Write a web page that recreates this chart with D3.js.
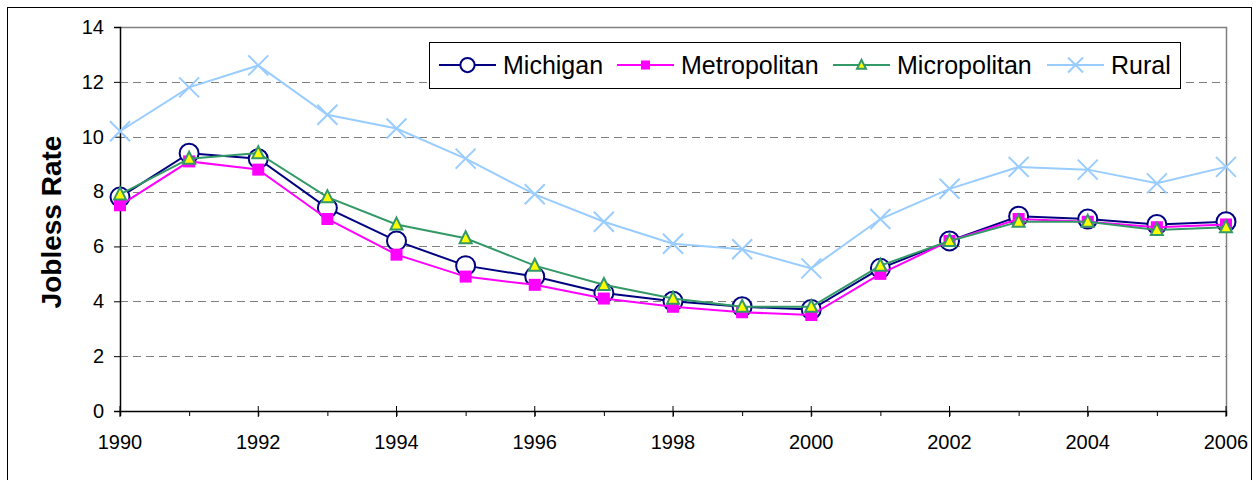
<!DOCTYPE html>
<html>
<head>
<meta charset="utf-8">
<script src="https://cdn.jsdelivr.net/npm/d3@7/dist/d3.min.js"></script>
<style>
    body { margin: 0; background: #fff; }
    text { font-family: "Liberation Sans", Arial, sans-serif; }
</style>
</head>
<body>
<div id="chart"></div>
<script>
let years = d3.range(1990, 2007);
let yTicks = [0, 2, 4, 6, 8, 10, 12, 14];
let xTickLabels = [1990, 1992, 1994, 1996, 1998, 2000, 2002, 2004, 2006];

let michigan = [7.8, 9.4, 9.2, 7.4, 6.2, 5.3, 4.9, 4.3, 4.0, 3.8, 3.7, 5.2, 6.2, 7.1, 7.0, 6.8, 6.9];
let metropolitan = [7.5, 9.1, 8.8, 7.0, 5.7, 4.9, 4.6, 4.1, 3.8, 3.6, 3.5, 5.0, 6.2, 7.0, 6.9, 6.7, 6.8];
let micropolitan = [7.9, 9.2, 9.4, 7.8, 6.8, 6.3, 5.3, 4.6, 4.1, 3.8, 3.8, 5.3, 6.2, 6.9, 6.9, 6.6, 6.7];
let rural = [10.2, 11.8, 12.6, 10.8, 10.3, 9.2, 7.9, 6.9, 6.1, 5.9, 5.2, 7.0, 8.1, 8.9, 8.8, 8.3, 8.9];

let seriesNames = ["Michigan", "Metropolitan", "Micropolitan", "Rural"];

// style of every series, drawn in this order (later ones on top)
let series = [
    {name: seriesNames[0], values: michigan, color: "#000080", marker: "circle", width: 2},
    {name: seriesNames[1], values: metropolitan, color: "#FF00FF", marker: "square", width: 2},
    {name: seriesNames[2], values: micropolitan, color: "#339966", marker: "triangle", width: 2},
    {name: seriesNames[3], values: rural, color: "#99CCFF", marker: "x", width: 2}
];

let W = 1257, H = 480;
let margin = {top: 27, right: 31, bottom: 69, left: 120},
    width = W - margin.left - margin.right,
    height = H - margin.top - margin.bottom;

let svg = d3.select("#chart").append("svg")
    .attr("width", W)
    .attr("height", H);

// outer chart frame
svg.append("rect")
    .attr("x", 7.5).attr("y", 7.5)
    .attr("width", 1244).attr("height", 490)
    .attr("fill", "none")
    .attr("stroke", "#000")
    .attr("stroke-width", 1);

let g = svg.append("g")
    .attr("transform", "translate(" + margin.left + "," + margin.top + ")");

let xScale = d3.scaleLinear().domain([1990, 2006]).range([0, width]);
let yScale = d3.scaleLinear().domain([0, 14]).range([height, 0]);

// dashed grid lines
g.selectAll(".grid")
    .data(yTicks.filter(function (d) { return d > 0 && d < 14; }))
    .enter().append("line")
    .attr("x1", 0).attr("x2", width)
    .attr("y1", function (d) { return Math.round(yScale(d)) + 0.5; })
    .attr("y2", function (d) { return Math.round(yScale(d)) + 0.5; })
    .attr("stroke", "#808080")
    .attr("stroke-dasharray", "8,5");

// plot area border (top and right, gray)
g.append("path")
    .attr("d", "M0,0.5H" + (width + 0.5) + "V" + height)
    .attr("fill", "none")
    .attr("stroke", "#808080")
    .attr("stroke-width", 1.5);

// Y axis
let yAxis = g.append("g")
    .call(d3.axisLeft(yScale).tickValues(yTicks).tickSize(6).tickPadding(10));
yAxis.select(".domain").attr("stroke", "#000").attr("stroke-width", 1.5);
yAxis.selectAll(".tick line").attr("stroke", "#000");
yAxis.selectAll("text")
    .style("font-size", "20px")
    .attr("fill", "#000");

// X axis, minor ticks every year, major ticks cross the axis
let xAxisG = g.append("g")
    .attr("transform", "translate(0," + height + ")");
xAxisG.call(d3.axisBottom(xScale).tickValues(years).tickSize(5).tickFormat(""));
xAxisG.select(".domain").attr("stroke", "#000").attr("stroke-width", 1.5);
xAxisG.selectAll(".tick line").attr("stroke", "#000");
xAxisG.selectAll(".major")
    .data(xTickLabels)
    .enter().append("line")
    .attr("x1", function (d) { return xScale(d); })
    .attr("x2", function (d) { return xScale(d); })
    .attr("y1", -5).attr("y2", 6)
    .attr("stroke", "#000");
xAxisG.selectAll(".lbl")
    .data(xTickLabels)
    .enter().append("text")
    .attr("x", function (d) { return xScale(d); })
    .attr("y", 38)
    .attr("text-anchor", "middle")
    .style("font-size", "20px")
    .attr("fill", "#000")
    .text(function (d) { return d; });

// y axis title
svg.append("text")
    .attr("transform", "translate(61,222) rotate(-90)")
    .attr("text-anchor", "middle")
    .style("font-size", "28px")
    .style("font-weight", "bold")
    .text("Jobless Rate");

// draw a marker at (x, y), s scales its size
function drawMarker(sel, type, color, x, y, s) {
    if (type === "circle") {
        sel.append("circle")
            .attr("cx", x).attr("cy", y).attr("r", 9.5 * s)
            .attr("fill", "#fff").attr("stroke", color).attr("stroke-width", 2);
    } else if (type === "square") {
        sel.append("rect")
            .attr("x", x - 6 * s).attr("y", y - 6 * s)
            .attr("width", 12 * s).attr("height", 12 * s)
            .attr("fill", color);
    } else if (type === "triangle") {
        let r = 6 * s;
        sel.append("path")
            .attr("d", "M" + x + "," + (y - r * 1.15) + "L" + (x + r) + "," + (y + r * 0.85) + "L" + (x - r) + "," + (y + r * 0.85) + "Z")
            .attr("fill", "#FFFF00").attr("stroke", color).attr("stroke-width", 2)
            .attr("stroke-linejoin", "miter");
    } else if (type === "x") {
        let r = 10 * s;
        sel.append("path")
            .attr("d", "M" + (x - r) + "," + (y - r) + "L" + (x + r) + "," + (y + r) + "M" + (x + r) + "," + (y - r) + "L" + (x - r) + "," + (y + r))
            .attr("fill", "none").attr("stroke", color).attr("stroke-width", 2);
    }
}

let line = d3.line()
    .x(function (d, i) { return xScale(years[i]); })
    .y(function (d) { return yScale(d); });

// lines and markers
series.forEach(function (s) {
    let sg = g.append("g");
    sg.append("path")
        .attr("d", line(s.values))
        .attr("fill", "none")
        .attr("stroke", s.color)
        .attr("stroke-width", s.width);
    s.values.forEach(function (v, i) {
        drawMarker(sg, s.marker, s.color, xScale(years[i]), yScale(v), 1);
    });
});

// legend
let legend = svg.append("g");
legend.append("rect")
    .attr("x", 429.5).attr("y", 42.5)
    .attr("width", 751).attr("height", 46)
    .attr("fill", "#fff")
    .attr("stroke", "#000")
    .attr("stroke-width", 1);

let legendX = [439, 617, 833, 1047];
series.forEach(function (s, i) {
    let x0 = legendX[i], ly = 65;
    legend.append("line")
        .attr("x1", x0).attr("x2", x0 + 57)
        .attr("y1", ly).attr("y2", ly)
        .attr("stroke", s.color).attr("stroke-width", s.width);
    drawMarker(legend, s.marker, s.color, x0 + 28.5, ly, 0.75);
    legend.append("text")
        .attr("x", x0 + 64)
        .attr("y", ly + 9)
        .style("font-size", "25px")
        .attr("fill", "#000")
        .text(s.name);
});
</script>
</body>
</html>
